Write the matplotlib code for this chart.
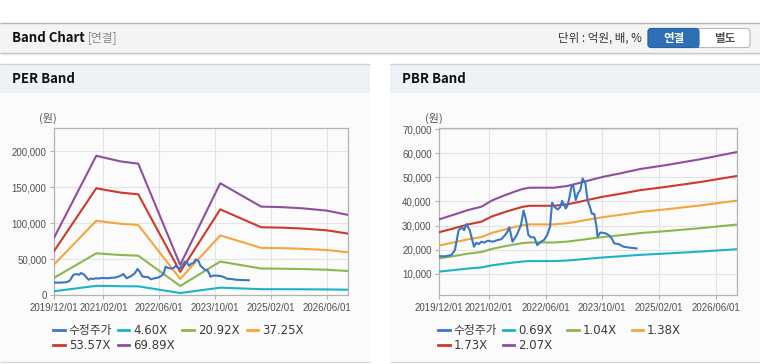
import numpy as np
import pandas as pd
import matplotlib
matplotlib.use('Agg')
import matplotlib.pyplot as plt
from matplotlib.patches import Rectangle, FancyBboxPatch
from matplotlib.legend import Legend
from matplotlib.ticker import FixedLocator, FuncFormatter
import matplotlib.dates as mdates

KR = ['Noto Sans CJK KR', 'DejaVu Sans']
LAT = ['DejaVu Sans', 'Noto Sans CJK KR']
TICK = ['Liberation Sans', 'DejaVu Sans']

# adjusted close price (수정주가)
price_dates = ['2019-12-01', '2020-01-19', '2020-03-15', '2020-04-13', '2020-05-15', '2020-06-12',
               '2020-07-01', '2020-07-21', '2020-08-18', '2020-09-24', '2020-10-15', '2020-11-03',
               '2020-11-27', '2020-12-18', '2021-01-21', '2021-03-04', '2021-04-15', '2021-05-15',
               '2021-06-12', '2021-07-09', '2021-07-24', '2021-08-21', '2021-09-27', '2021-11-01',
               '2021-11-24', '2021-12-15', '2022-01-04', '2022-01-27', '2022-02-24', '2022-03-21',
               '2022-04-21', '2022-05-18', '2022-06-15', '2022-07-09', '2022-07-27', '2022-08-18',
               '2022-09-15', '2022-10-06', '2022-10-21', '2022-11-21', '2022-12-03', '2022-12-18',
               '2023-01-09', '2023-01-24', '2023-02-15', '2023-03-06', '2023-03-27', '2023-04-15',
               '2023-05-09', '2023-05-27', '2023-06-21', '2023-07-03', '2023-07-24', '2023-08-12',
               '2023-08-21', '2023-09-15', '2023-10-27', '2023-11-24', '2023-12-21', '2024-01-12',
               '2024-02-18', '2024-04-01', '2024-05-27', '2024-07-21']
price = [17300, 17200, 17800, 19800, 28100, 29200, 28100, 30600, 28100, 21200, 22900, 22300,
         23300, 22900, 23700, 23300, 24000, 24300, 25700, 27500, 29300, 23300, 26100, 30200,
         36200, 32300, 26100, 25100, 25100, 21900, 23300, 24000, 26100, 29600, 39500, 37600,
         36700, 37800, 40300, 37100, 38000, 40600, 46100, 46800, 40600, 43400, 44800, 49600,
         47500, 40600, 37100, 35000, 34800, 29600, 25400, 27100, 26800, 26100, 24700, 22600,
         22300, 21200, 20800, 20500]

# EPS for PER band
eps_dates = ['2019-12-01', '2020-12-01', '2021-01-01', '2021-07-01', '2021-12-01', '2022-12-01',
             '2023-11-15', '2024-11-05', '2025-05-01', '2025-11-01', '2026-06-01', '2026-12-01']
eps = [1150, 2775, 2755, 2660, 2615, 600, 2225, 1760, 1750, 1726, 1680, 1595]
per_mult = [4.60, 20.92, 37.25, 53.57, 69.89]
per_labels = ['4.60X', '20.92X', '37.25X', '53.57X', '69.89X']

# BPS for PBR band
bps_dates = ['2019-12-01', '2020-04-13', '2020-08-04', '2020-11-28', '2021-02-21', '2021-05-15',
             '2021-09-07', '2021-11-15', '2022-01-13', '2022-08-13', '2022-12-04', '2023-03-28',
             '2023-06-21', '2023-10-13', '2024-03-04', '2024-08-22', '2025-04-04', '2026-01-16',
             '2026-12-01']
bps = [15750, 16740, 17610, 18280, 19480, 20290, 21290, 21830, 22090, 22090, 22430, 23100,
       23630, 24300, 24970, 25840, 26640, 27780, 29250]
pbr_mult = [0.69, 1.04, 1.38, 1.73, 2.07]
pbr_labels = ['0.69X', '1.04X', '1.38X', '1.73X', '2.07X']

tick_dates = ['2019-12-01', '2021-02-01', '2022-06-01', '2023-10-01', '2025-02-01', '2026-06-01']
per_yticks = [0, 50000, 100000, 150000, 200000]
pbr_yticks = [10000, 20000, 30000, 40000, 50000, 60000, 70000]

price_color = '#3a76c7'
band_colors = ['#1db3c6', '#8cb64f', '#f5a53b', '#cf382d', '#8e4f9d']

W, H = 760, 364
fig = plt.figure(figsize=(W / 100, H / 100), dpi=100)
fig.patch.set_facecolor('white')

bg = fig.add_axes([0, 0, 1, 1], zorder=-10)
bg.set_xlim(0, W)
bg.set_ylim(H, 0)
bg.axis('off')

# top header bar
bg.add_patch(Rectangle((0, 22.5), W, 30.5, fc='#f4f4f4', ec='none'))
bg.hlines(22.5, 0, W, color='#b4b4b4', lw=1)
bg.hlines(53, 0, W, color='#c4c4c4', lw=1)
bg.hlines(54.2, 0, W, color='#e6e6e6', lw=1)
bg.text(12, 38, 'Band Chart', family=KR, weight='bold', fontsize=9.5, color='#111', va='center')
bg.text(88, 38, '[연결]', family=KR, fontsize=8.5, color='#8a8a8a', va='center')
bg.text(642, 38, '단위 : 억원, 배, %', family=KR, fontsize=8.3, color='#333', va='center', ha='right')
bg.add_patch(FancyBboxPatch((648, 28.5), 102, 19, boxstyle='round,pad=0,rounding_size=3',
                            fc='white', ec='#b8b8b8', lw=0.8))
bg.add_patch(FancyBboxPatch((648, 28.5), 51, 19, boxstyle='round,pad=0,rounding_size=3',
                            fc='#2f6fb6', ec='#2a609f', lw=0.8))
bg.add_patch(Rectangle((693, 28.5), 6, 19, fc='#2f6fb6', ec='none'))
bg.text(673.5, 38.5, '연결', family=KR, weight='bold', fontsize=8.3, color='white', ha='center', va='center')
bg.text(724.5, 38.5, '별도', family=KR, weight='bold', fontsize=8.3, color='#555', ha='center', va='center')


def panel(x0, x1, title):
    bg.add_patch(Rectangle((x0, 64), x1 - x0, 298, fc='#fbfbfb', ec='none'))
    bg.add_patch(Rectangle((x0, 64), x1 - x0, 28.5, fc='#eef2f7', ec='none'))
    bg.hlines(63.8, x0, x1, color='#d2d2d2', lw=1)
    bg.hlines(362, x0, x1, color='#d8d8d8', lw=1)
    bg.text(x0 + 12, 79, title, family=KR, weight='bold', fontsize=9.5, color='#111', va='center')


panel(0, 370, 'PER Band')
panel(390, 760, 'PBR Band')

p_dt = pd.to_datetime(price_dates)
ticks = mdates.date2num(pd.to_datetime(tick_dates))
x_lim = mdates.date2num(pd.to_datetime(['2019-12-01', '2026-12-01']))


def chart(left, right, base_dates, base, mults, labels, ylim, yticks, unit_x):
    ax = fig.add_axes([left / W, 1 - 295 / H, (right - left) / W, (295 - 128.3) / H])
    ax.set_facecolor('none')
    b_dt = pd.to_datetime(base_dates)
    handles = [ax.plot(p_dt, price, color=price_color, lw=1.5, label='수정주가', zorder=4)[0]]
    for m, c, lab in zip(mults, band_colors, labels):
        handles.append(ax.plot(b_dt, np.array(base) * m, color=c, lw=1.5, label=lab, zorder=3)[0])
    ax.set_xlim(x_lim)
    ax.set_ylim(ylim)
    ax.xaxis.set_major_locator(FixedLocator(ticks))
    ax.xaxis.set_major_formatter(mdates.DateFormatter('%Y/%m/%d'))
    ax.yaxis.set_major_locator(FixedLocator(yticks))
    ax.yaxis.set_major_formatter(FuncFormatter(lambda v, p: f'{int(v):,}'))
    ax.grid(color='#e3e3e3', lw=0.75)
    ax.set_axisbelow(True)
    for s in ax.spines.values():
        s.set_color('#b3b3b3')
        s.set_linewidth(0.9)
    ax.tick_params(length=3, width=0.8, color='#b3b3b3', labelcolor='#505050', pad=2.5)
    for t in ax.get_xticklabels() + ax.get_yticklabels():
        t.set_family(TICK)
        t.set_fontsize(7)
    bg.text(unit_x, 118, '(원)', family=KR, fontsize=8, color='#555', ha='center', va='center')

    # legend: 4 columns with a fixed pitch
    lx = left - 1
    for i in range(4):
        idx = [i] + ([i + 4] if i + 4 < len(handles) else [])
        leg = Legend(ax, [handles[j] for j in idx], [handles[j].get_label() for j in idx],
                     loc='upper left', bbox_to_anchor=((lx + i * 64.5) / W, 1 - 324 / H),
                     bbox_transform=fig.transFigure, frameon=False, borderpad=0,
                     borderaxespad=0, handlelength=0.95, handletextpad=0.35,
                     labelspacing=0.15, prop={'family': LAT, 'size': 8.5})
        for t in leg.get_texts():
            t.set_color('#3a3a3a')
        for l in leg.get_lines():
            l.set_linewidth(2)
        ax.add_artist(leg)
    return ax


chart(54.3, 348, eps_dates, eps, per_mult, per_labels, (0, 232000), per_yticks, 48)
chart(439.3, 737, bps_dates, bps, pbr_mult, pbr_labels, (1150, 70400), pbr_yticks, 434)

fig.savefig('out.png', dpi=100, facecolor='white')
